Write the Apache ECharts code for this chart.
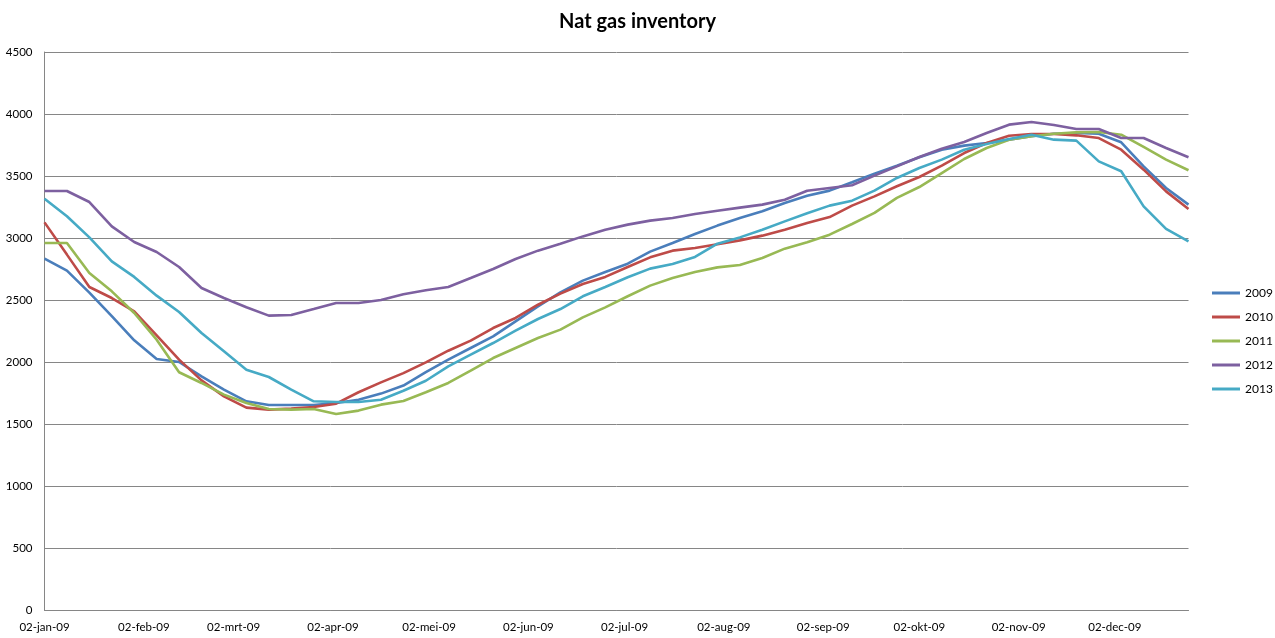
<!DOCTYPE html>
<html><head><meta charset="utf-8">
<script src="https://cdn.jsdelivr.net/npm/echarts@6/dist/echarts.min.js"></script>
<style>html,body{margin:0;padding:0;background:#fff}#c{width:1275px;height:638px}</style>
</head><body><div id="c"></div>
<script>
const seriesNames = ['2009', '2010', '2011', '2012', '2013'];
const v2009 = [2833, 2737, 2560, 2370, 2175, 2024, 2000, 1884, 1777, 1683, 1653, 1653, 1653, 1670, 1696, 1745, 1810, 1919, 2019, 2113, 2207, 2328, 2449, 2562, 2656, 2726, 2793, 2890, 2960, 3032, 3100, 3161, 3215, 3282, 3340, 3382, 3449, 3519, 3583, 3651, 3712, 3745, 3766, 3793, 3820, 3841, 3847, 3841, 3772, 3578, 3403, 3269];
const v2010 = [3126, 2866, 2605, 2516, 2409, 2215, 2019, 1852, 1723, 1632, 1616, 1624, 1637, 1664, 1756, 1836, 1910, 1997, 2091, 2172, 2274, 2355, 2462, 2551, 2629, 2686, 2766, 2844, 2898, 2919, 2949, 2981, 3019, 3067, 3120, 3169, 3261, 3336, 3417, 3492, 3583, 3685, 3766, 3825, 3839, 3839, 3828, 3806, 3712, 3551, 3376, 3234];
const v2011 = [2960, 2960, 2718, 2570, 2395, 2180, 1917, 1831, 1737, 1670, 1621, 1616, 1621, 1581, 1608, 1656, 1686, 1756, 1831, 1930, 2032, 2113, 2194, 2261, 2360, 2441, 2530, 2616, 2677, 2726, 2763, 2782, 2839, 2914, 2965, 3027, 3113, 3202, 3323, 3411, 3524, 3637, 3726, 3793, 3820, 3841, 3852, 3855, 3833, 3734, 3632, 3546];
const v2012 = [3379, 3379, 3290, 3094, 2968, 2887, 2766, 2597, 2516, 2441, 2374, 2379, 2427, 2476, 2476, 2500, 2547, 2578, 2605, 2677, 2750, 2831, 2898, 2954, 3013, 3067, 3108, 3140, 3161, 3194, 3220, 3245, 3269, 3309, 3381, 3403, 3425, 3503, 3578, 3653, 3720, 3774, 3847, 3914, 3935, 3911, 3879, 3879, 3806, 3806, 3726, 3651];
const v2013 = [3317, 3175, 3005, 2812, 2686, 2535, 2403, 2234, 2086, 1938, 1879, 1777, 1683, 1678, 1678, 1696, 1768, 1849, 1965, 2059, 2153, 2253, 2347, 2427, 2530, 2605, 2683, 2753, 2790, 2847, 2954, 3005, 3067, 3134, 3200, 3261, 3301, 3382, 3484, 3565, 3632, 3712, 3758, 3798, 3833, 3793, 3785, 3618, 3538, 3255, 3073, 2973];
const seriesValues = [v2009, v2010, v2011, v2012, v2013];
const seriesColors = ['#4A7EBB', '#BE4B48', '#98B954', '#7D60A0', '#46AAC5'];
const monthNames = ['jan', 'feb', 'mrt', 'apr', 'mei', 'jun', 'jul', 'aug', 'sep', 'okt', 'nov', 'dec'];
const yTicks = [0, 500, 1000, 1500, 2000, 2500, 3000, 3500, 4000, 4500];
const startDate = Date.UTC(2009, 0, 2);
const weekCount = 52;

// daily category axis (date axis like Excel)
const days = [];
for (let i = 0; i <= (weekCount - 1) * 7; i++) days.push(new Date(startDate + i * 86400000));
const pad = n => (n < 10 ? '0' : '') + n;
const cats = days.map(d => pad(d.getUTCDate()) + '-' + monthNames[d.getUTCMonth()] + '-' + String(d.getUTCFullYear()).slice(2));

const FONT = 'Lato';
const chart = echarts.init(document.getElementById('c'), null, {renderer: 'canvas'});
chart.setOption({
  animation: false,
  backgroundColor: '#fff',
  textStyle: {fontFamily: FONT},
  title: {
    text: 'Nat gas inventory', left: 'center', top: 7,
    textStyle: {fontFamily: FONT, fontSize: 20, fontWeight: 'bold', color: '#000'}
  },
  legend: {
    data: seriesNames, orient: 'vertical', left: 1207, top: 282,
    icon: 'rect', itemWidth: 28, itemHeight: 3, itemGap: 12,
    textStyle: {fontFamily: FONT, fontSize: 12, color: '#000'}
  },
  grid: {left: 44.5, right: 86.5, top: 52, bottom: 28},
  xAxis: {
    type: 'category', data: cats, boundaryGap: false,
    axisLine: {lineStyle: {color: '#868686', width: 1}},
    axisTick: {show: false},
    axisLabel: {
      interval: (idx) => days[idx].getUTCDate() === 2,
      margin: 11, color: '#000', fontFamily: FONT, fontSize: 11.5
    },
    splitLine: {show: false}
  },
  yAxis: {
    type: 'value', min: yTicks[0], max: yTicks[yTicks.length - 1], interval: yTicks[1] - yTicks[0],
    axisLine: {show: true, lineStyle: {color: '#868686', width: 1}},
    axisTick: {show: false},
    axisLabel: {margin: 12, color: '#000', fontFamily: FONT, fontSize: 11.5, formatter: v => String(v)},
    splitLine: {show: true, lineStyle: {color: '#868686', width: 1}}
  },
  series: seriesNames.map((name, k) => ({
    name: name, type: 'line', symbol: 'none', smooth: false,
    color: seriesColors[k],
    lineStyle: {color: seriesColors[k], width: 2.6},
    data: seriesValues[k].map((v, i) => [i * 7, v])
  }))
});
</script>
</body></html>
